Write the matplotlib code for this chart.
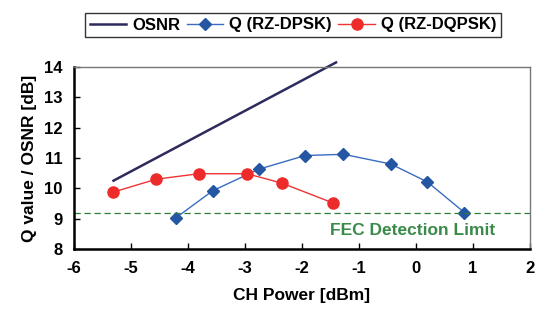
import matplotlib
matplotlib.use("Agg")
import matplotlib.pyplot as plt

plt.rcParams['font.family'] = ['Liberation Sans', 'DejaVu Sans']
plt.rcParams['axes.unicode_minus'] = False

osnr_x = [-5.3, -1.4]
osnr_y = [10.25, 14.15]
dpsk_x = [-4.21, -3.56, -2.75, -1.94, -1.27, -0.44, 0.2, 0.85]
dpsk_y = [9.02, 9.92, 10.63, 11.08, 11.12, 10.80, 10.21, 9.2]
dqpsk_x = [-5.31, -4.55, -3.80, -2.96, -2.35, -1.46]
dqpsk_y = [9.87, 10.30, 10.48, 10.48, 10.17, 9.52]
fec_limit = 9.18
xticks = [-6, -5, -4, -3, -2, -1, 0, 1, 2]
yticks = [8, 9, 10, 11, 12, 13, 14]

fig = plt.figure(figsize=(5.37, 3.22), dpi=100)
ax = fig.add_axes([0.137, 0.227, 0.850, 0.565])

l1, = ax.plot(osnr_x, osnr_y, color='#2d2b5e', lw=1.8, clip_on=False, label='OSNR')
l2, = ax.plot(dpsk_x, dpsk_y, color='#3a6cc0', lw=1.0, marker='D', ms=6.5,
              mfc='#2456a4', mec='#2456a4', label='Q (RZ-DPSK)')
l3, = ax.plot(dqpsk_x, dqpsk_y, color='#ee3333', lw=1.0, marker='o', ms=8,
              mfc='#ee2b2b', mec='#ee2b2b', label='Q (RZ-DQPSK)')
ax.axhline(fec_limit, color='#2e7d3a', lw=0.9, ls=(0, (5, 3)))
ax.text(-0.05, 8.6, 'FEC Detection Limit', color='#3a8a4a', fontsize=12.5,
        fontweight='bold', ha='center', va='center')

ax.set_xlim(-6, 2)
ax.set_ylim(8, 14)
ax.set_xticks(xticks)
ax.set_yticks(yticks)
ax.tick_params(direction='in', length=4, labelsize=12, width=1)
for lbl in ax.get_xticklabels() + ax.get_yticklabels():
    lbl.set_fontweight('bold')
ax.tick_params(axis='x', pad=9)
ax.tick_params(axis='y', pad=8)
ax.set_xlabel('CH Power [dBm]', fontsize=12.5, fontweight='bold', labelpad=8)
ax.set_ylabel('Q value / OSNR [dB]', fontsize=12.5, fontweight='bold', labelpad=5)

ax.spines['left'].set_linewidth(1.8)
ax.spines['bottom'].set_linewidth(1.8)
ax.spines['top'].set_color('#777777')
ax.spines['right'].set_color('#777777')
ax.spines['top'].set_linewidth(1.0)
ax.spines['right'].set_linewidth(1.0)

leg = fig.legend(handles=[l1, l2, l3], loc='center',
                 bbox_to_anchor=(293 / 537, 1 - 25 / 322),
                 ncol=3, frameon=True, fancybox=False, edgecolor='black',
                 prop={'weight': 'bold', 'size': 12}, handlelength=2.2,
                 columnspacing=0.4, handletextpad=0.35, borderpad=0.25)
leg.get_frame().set_linewidth(1.0)

fig.savefig('out.png', dpi=100)
